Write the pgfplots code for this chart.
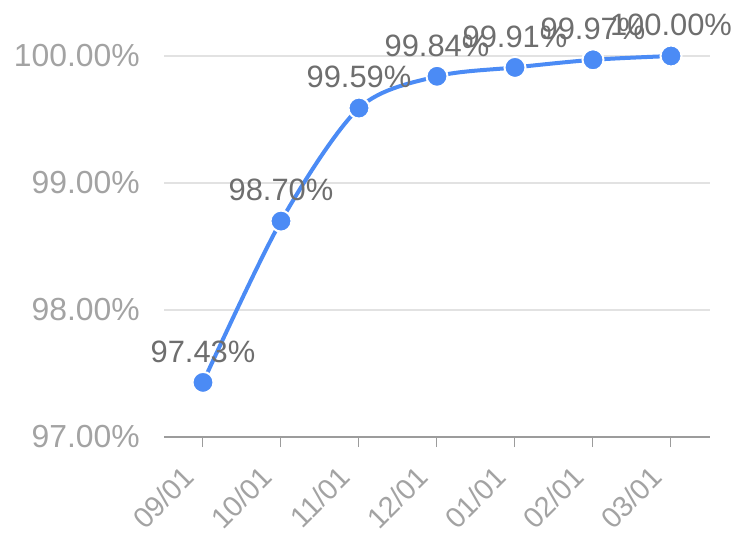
\documentclass[border=0pt]{standalone}
\usepackage{pgfplots}
\pgfplotsset{compat=1.18}
\usepackage{fontspec}
\setmainfont{Liberation Sans}
\definecolor{lineblue}{HTML}{4B8BF5}
\definecolor{ticktext}{HTML}{A3A3A3}
\definecolor{labeltext}{HTML}{6E6E6E}
\definecolor{gridc}{HTML}{E2E2E2}
\definecolor{axisc}{HTML}{9C9C9C}
\begin{document}
\begin{tikzpicture}
\useasboundingbox (0,0) rectangle (740bp,533bp);
\begin{axis}[
  at={(164bp,96bp)}, anchor=south west,
  scale only axis, width=546bp, height=387.35bp,
  xmin=-0.5, xmax=6.5, ymin=97, ymax=100.05,
  clip=false,
  axis lines*=left,
  x axis line style={axisc, line width=2bp},
  y axis line style={draw=none},
  ytick={97,98,99,100},
  yticklabels={97.00\%,98.00\%,99.00\%,100.00\%},
  ymajorgrids, grid style={gridc, line width=1.2bp},
  ytick style={draw=none},
  xtick={0,...,6},
  xticklabels={09/01,10/01,11/01,12/01,01/01,02/01,03/01},
  xtick style={axisc, line width=1bp},
  tick align=outside, major tick length=10bp,
  y tick label style={font=\fontsize{32}{32}\selectfont, text=ticktext, inner sep=0pt, xshift=-14bp},
  xticklabel shift=26bp,
  x tick label style={font=\fontsize{29}{29}\selectfont, text=ticktext, xshift=-14bp, yshift=1bp, rotate=45, anchor=east, inner sep=0pt},
]
\addplot[lineblue, line width=4bp, smooth, mark=*, mark size=10.5bp,
  mark options={fill=lineblue, draw=white, line width=2bp},
  nodes near coords, point meta=explicit symbolic,
  every node near coord/.append style={font=\fontsize{31}{31}\selectfont, text=labeltext, anchor=south, inner sep=0pt, yshift=19bp}]
coordinates {
(0,97.43) [97.43\%]
(1,98.70) [98.70\%]
(2,99.59) [99.59\%]
(3,99.84) [99.84\%]
(4,99.91) [99.91\%]
(5,99.97) [99.97\%]
(6,100.00) [100.00\%]
};
\end{axis}
\end{tikzpicture}
\end{document}
